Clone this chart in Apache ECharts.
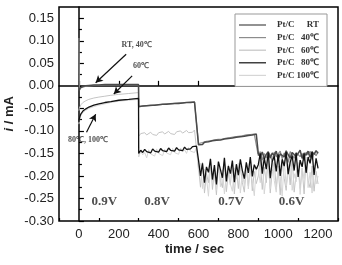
<!DOCTYPE html>
<html><head><meta charset="utf-8">
<script src="https://cdn.jsdelivr.net/npm/echarts@6/dist/echarts.min.js"></script>
<style>html,body{margin:0;padding:0;background:#fff}#c{width:342px;height:265px}</style>
</head><body><div id="c"></div>
<script>
const times = [0,2,5,10,20,35,50,75,100,130,160,200,250,299,
300,310,320,330,340,350,360,370,380,390,400,410,420,430,440,450,460,470,480,490,500,510,520,530,540,550,560,570,580,590,
600,610,620,630,640,650,660,670,680,690,700,710,720,730,740,750,760,770,780,790,800,810,820,830,840,850,860,870,880,890,
900,910,920,930,940,950,960,970,980,990,1000,1010,1020,1030,1040,1050,1060,1070,1080,1090,1100,1110,1120,1130,1140,1150,1160,1170,1180,1190,1200];

const seriesNames = ['Pt/C  RT','Pt/C  40℃','Pt/C  60℃','Pt/C  80℃','Pt/C 100℃'];
const legendTemps = ['RT','40℃','60℃','80℃','100℃'];

const valRT = [-0.012,-0.008,-0.005,-0.003,-0.001,0.000,0.001,0.002,0.002,0.003,0.003,0.003,0.003,0.003,
-0.046,-0.045,-0.045,-0.044,-0.044,-0.044,-0.043,-0.043,-0.043,-0.042,-0.042,-0.042,-0.041,-0.041,-0.041,-0.040,-0.040,-0.040,-0.039,-0.039,-0.039,-0.038,-0.038,-0.038,-0.037,-0.037,-0.037,-0.036,-0.036,-0.035,
-0.131,-0.127,-0.130,-0.125,-0.128,-0.124,-0.127,-0.122,-0.126,-0.121,-0.124,-0.120,-0.123,-0.118,-0.121,-0.117,-0.120,-0.116,-0.118,-0.114,-0.117,-0.113,-0.116,-0.112,-0.114,-0.110,-0.113,-0.109,-0.111,-0.107,
-0.150,-0.158,-0.147,-0.162,-0.152,-0.146,-0.160,-0.149,-0.155,-0.145,-0.163,-0.151,-0.147,-0.158,-0.144,-0.153,-0.160,-0.148,-0.146,-0.157,-0.150,-0.143,-0.161,-0.149,-0.154,-0.145,-0.159,-0.147,-0.152,-0.144,-0.150];

const val40 = [0.106,-0.010,-0.006,-0.004,-0.002,-0.001,0.000,0.001,0.001,0.002,0.002,0.002,0.002,0.002,
-0.047,-0.046,-0.045,-0.045,-0.044,-0.044,-0.044,-0.043,-0.043,-0.042,-0.042,-0.042,-0.041,-0.041,-0.040,-0.040,-0.040,-0.039,-0.039,-0.039,-0.038,-0.038,-0.038,-0.037,-0.037,-0.037,-0.036,-0.036,-0.036,-0.035,
-0.128,-0.132,-0.126,-0.129,-0.123,-0.127,-0.122,-0.125,-0.120,-0.124,-0.119,-0.122,-0.118,-0.121,-0.116,-0.120,-0.115,-0.118,-0.113,-0.117,-0.112,-0.115,-0.111,-0.114,-0.109,-0.113,-0.108,-0.111,-0.107,-0.109,
-0.155,-0.146,-0.165,-0.150,-0.160,-0.148,-0.153,-0.168,-0.147,-0.158,-0.151,-0.145,-0.162,-0.149,-0.156,-0.170,-0.146,-0.152,-0.161,-0.148,-0.144,-0.157,-0.150,-0.166,-0.147,-0.153,-0.145,-0.163,-0.149,-0.155,-0.146];

const val60 = [-0.055,-0.050,-0.046,-0.042,-0.037,-0.033,-0.030,-0.027,-0.025,-0.023,-0.021,-0.019,-0.017,-0.015,
-0.112,-0.106,-0.110,-0.104,-0.109,-0.107,-0.103,-0.108,-0.105,-0.110,-0.104,-0.106,-0.102,-0.107,-0.105,-0.101,-0.106,-0.103,-0.108,-0.102,-0.104,-0.100,-0.105,-0.103,-0.099,-0.104,-0.101,-0.103,-0.098,-0.102,
-0.182,-0.225,-0.170,-0.238,-0.195,-0.215,-0.165,-0.230,-0.188,-0.242,-0.176,-0.210,-0.226,-0.168,-0.235,-0.192,-0.220,-0.172,-0.240,-0.185,-0.228,-0.178,-0.214,-0.236,-0.181,-0.222,-0.169,-0.233,-0.190,-0.217,
-0.200,-0.165,-0.230,-0.180,-0.215,-0.160,-0.238,-0.190,-0.170,-0.225,-0.185,-0.242,-0.168,-0.205,-0.232,-0.175,-0.220,-0.158,-0.236,-0.195,-0.172,-0.228,-0.183,-0.240,-0.162,-0.210,-0.226,-0.178,-0.234,-0.190,-0.218];

const val80 = [-0.080,-0.074,-0.068,-0.062,-0.056,-0.051,-0.047,-0.043,-0.040,-0.037,-0.035,-0.032,-0.030,-0.028,
-0.150,-0.143,-0.148,-0.141,-0.146,-0.144,-0.149,-0.140,-0.145,-0.142,-0.147,-0.139,-0.144,-0.141,-0.146,-0.138,-0.143,-0.140,-0.145,-0.137,-0.142,-0.139,-0.144,-0.136,-0.141,-0.138,-0.140,-0.135,-0.139,-0.134,
-0.165,-0.200,-0.172,-0.215,-0.180,-0.192,-0.162,-0.208,-0.176,-0.219,-0.168,-0.186,-0.204,-0.160,-0.212,-0.178,-0.195,-0.166,-0.214,-0.174,-0.198,-0.163,-0.188,-0.206,-0.170,-0.193,-0.158,-0.201,-0.175,-0.185,
-0.175,-0.150,-0.195,-0.160,-0.185,-0.148,-0.205,-0.168,-0.156,-0.190,-0.152,-0.200,-0.163,-0.178,-0.147,-0.196,-0.170,-0.155,-0.188,-0.149,-0.202,-0.165,-0.180,-0.151,-0.193,-0.158,-0.172,-0.146,-0.198,-0.161,-0.183];

const val100 = [-0.085,-0.078,-0.072,-0.066,-0.059,-0.054,-0.050,-0.046,-0.043,-0.040,-0.037,-0.034,-0.032,-0.030,
-0.158,-0.145,-0.153,-0.148,-0.160,-0.142,-0.151,-0.147,-0.156,-0.140,-0.150,-0.146,-0.155,-0.141,-0.149,-0.145,-0.153,-0.139,-0.148,-0.144,-0.152,-0.138,-0.147,-0.142,-0.150,-0.137,-0.145,-0.141,-0.148,-0.136,
-0.190,-0.172,-0.228,-0.185,-0.205,-0.245,-0.178,-0.212,-0.196,-0.232,-0.170,-0.224,-0.186,-0.240,-0.199,-0.175,-0.218,-0.234,-0.182,-0.207,-0.171,-0.238,-0.196,-0.219,-0.176,-0.229,-0.188,-0.211,-0.244,-0.180,
-0.185,-0.215,-0.160,-0.240,-0.198,-0.172,-0.228,-0.155,-0.210,-0.236,-0.178,-0.202,-0.245,-0.165,-0.222,-0.188,-0.150,-0.232,-0.195,-0.213,-0.170,-0.241,-0.182,-0.206,-0.158,-0.226,-0.192,-0.238,-0.176,-0.218,-0.200];

const xTickLabels = [0,200,400,600,800,1000,1200];
const xMinorTicks = [-100,100,300,500,700,900,1100,1300];
const yTickLabels = [-0.30,-0.25,-0.20,-0.15,-0.10,-0.05,0.00,0.05,0.10,0.15];

const voltLabels = ['0.9V','0.8V','0.7V','0.6V'];
const voltX = [128,392,763,1067];
const voltY = -0.258;

const noteTexts = ['RT, 40℃','60℃','80℃, 100℃'];
const notePos = [[289,0.091],[311,0.044],[46,-0.120]];
const arrowFrom = [[237,0.070],[267,0.022],[38,-0.103]];
const arrowTo = [[84,0.007],[175,-0.018],[84,-0.063]];

const allVals = [valRT,val40,val60,val80,val100];
const colors = ['#4a4a4a','#8c8c8c','#c4c4c4','#111111','#d6d6d6'];
const zs = [4,3,1,5,2];
const widths = [1.5,1.2,1,1.3,1];

const chart = echarts.init(document.getElementById('c'), null, {renderer:'canvas'});
const lineSeries = allVals.map((vals,i)=>({
  name: seriesNames[i], type:'line', data: times.map((t,j)=>[t, vals[j]]),
  showSymbol:false, symbol:'none', z: zs[i], animation:false,
  lineStyle:{color:colors[i], width:widths[i]}, itemStyle:{color:colors[i]}
}));
const serif = 'Liberation Serif, Times New Roman, serif';
const sans = 'Liberation Sans, Arial, sans-serif';

chart.setOption({
  animation:false,
  grid:{left:59, right:4, top:7, bottom:44, show:true, borderColor:'#000', borderWidth:1.5, backgroundColor:'transparent'},
  xAxis:[{
    type:'value', min:-100, max:1300, interval:100,
    axisLine:{lineStyle:{color:'#000', width:1.5}},
    axisTick:{show:true, inside:true, length:5, customValues:xTickLabels, lineStyle:{color:'#000', width:1.2}},
    axisLabel:{customValues:xTickLabels, color:'#222', fontFamily:sans, fontSize:13, margin:7, formatter:v=>String(v)},
    splitLine:{show:false}
  },{
    type:'value', min:-100, max:1300, interval:100, position:'bottom',
    axisLine:{show:false},
    axisTick:{show:true, inside:true, length:3, customValues:xMinorTicks, lineStyle:{color:'#000', width:1.2}},
    axisLabel:{show:false}, splitLine:{show:false}
  }],
  yAxis:{
    type:'value', min:-0.30, max:0.175, interval:0.05,
    axisLine:{show:true, lineStyle:{color:'#000', width:1.5}},
    axisTick:{show:true, inside:true, length:5, customValues:yTickLabels, lineStyle:{color:'#000', width:1.2}},
    minorTick:{show:true, splitNumber:2, length:3, lineStyle:{color:'#000', width:1.2}},
    axisLabel:{customValues:yTickLabels, color:'#222', fontFamily:sans, fontSize:13, margin:5,
      formatter:v=>v.toFixed(2)},
    splitLine:{show:false}, minorSplitLine:{show:false}
  },
  legend:{
    data: seriesNames, orient:'vertical', left:235, top:14,
    padding:[6,8,6,4], itemGap:2.6, itemWidth:27, itemHeight:1.2, icon:'rect',
    borderColor:'#999', borderWidth:1, backgroundColor:'#fff',
    formatter: name => '{a|Pt/C}{b|' + legendTemps[seriesNames.indexOf(name)] + '}',
    textStyle:{fontFamily:serif, fontWeight:'bold', fontSize:9, lineHeight:10, color:'#333', padding:[0,0,0,6],
      rich:{a:{width:22, lineHeight:10, fontFamily:serif, fontWeight:'bold', fontSize:9, color:'#333'},
            b:{width:20, lineHeight:10, align:'right', fontFamily:serif, fontWeight:'bold', fontSize:9, color:'#333'}}}
  },
  series: lineSeries.concat([
    {type:'scatter', name:'notes', symbolSize:0, z:10, silent:true,
     data: notePos.map((p,i)=>({value:p, name:noteTexts[i]})),
     label:{show:true, position:'inside', formatter:p=>p.name, fontFamily:serif, fontWeight:'bold', fontSize:8, color:'#222'},
     markLine:{silent:true, symbol:['none','arrow'], symbolSize:[6,7], animation:false,
       lineStyle:{color:'#111', width:1.2, type:'solid'}, label:{show:false},
       data: arrowFrom.map((f,i)=>[{coord:f},{coord:arrowTo[i]}])}
    },
    {type:'scatter', name:'volts', symbolSize:0, z:10, silent:true,
     data: voltX.map((x,i)=>({value:[x,voltY], name:voltLabels[i]})),
     label:{show:true, position:'inside', formatter:p=>p.name, fontFamily:serif, fontWeight:'bold', fontSize:13, color:'#222'}
    }
  ]),
  graphic:[
    {type:'text', left:3, top:96, rotation:Math.PI/2, style:{text:'{i|i} / mA', fontFamily:sans, fontWeight:'bold', fontSize:13, fill:'#222',
      rich:{i:{fontStyle:'italic', fontWeight:'bold', fontFamily:sans, fontSize:13, fill:'#222'}}}},
    {type:'text', left:165, top:243, style:{text:'time / sec', fontFamily:sans, fontWeight:'bold', fontSize:13, fill:'#222'}}
  ]
});
</script></body></html>
